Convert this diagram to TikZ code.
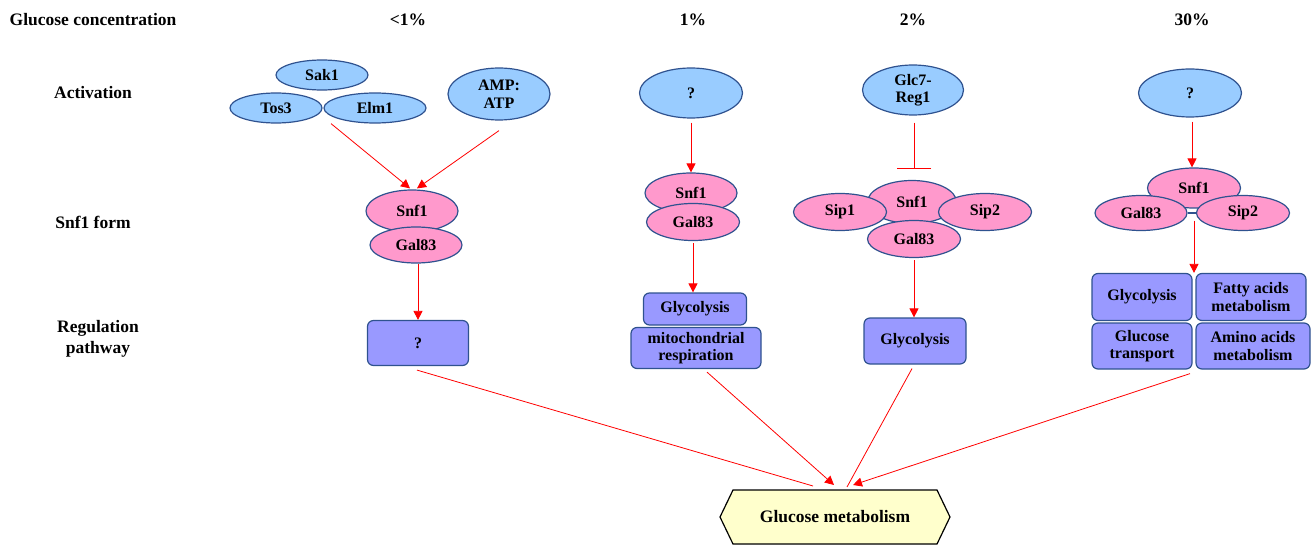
\documentclass[tikz,border=0pt]{standalone}
\usepackage{fontspec}
\setmainfont{Liberation Serif}
\usetikzlibrary{shapes.geometric,arrows.meta}
\definecolor{eblue}{RGB}{153,204,255}
\definecolor{epink}{RGB}{255,153,204}
\definecolor{bpurp}{RGB}{153,153,255}
\definecolor{edgec}{RGB}{47,82,143}
\definecolor{gmfill}{RGB}{255,255,204}
\newcommand{\nfont}{\fontsize{16}{17.5}\selectfont\bfseries}
\newcommand{\hfont}{\fontsize{17.5}{21}\selectfont\bfseries}
\begin{document}
\begin{tikzpicture}[x=1pt,y=-1pt,
  ellbase/.style={ellipse, draw=edgec, line width=1.2pt, inner sep=0pt, font=\nfont, align=center},
  blueell/.style={ellbase, fill=eblue},
  pinkell/.style={ellbase, fill=epink},
  pbox/.style={rectangle, rounded corners=6pt, draw=edgec, fill=bpurp, line width=1.2pt, inner sep=0pt, font=\nfont, align=center},
  hdr/.style={font=\hfont, align=center, inner sep=0pt},
  ra/.style={red, line width=0.8pt, -{Triangle[width=9pt,length=9pt]}},
  rl/.style={red, line width=0.8pt},
  inh/.style={red, line width=0.8pt, -{Bar[width=34pt,line width=0.8pt]}}
]
\useasboundingbox (0,0) rectangle (1316,545);
% headers
\node[hdr] (hgc) at (93,20) {Glucose concentration};
\node[hdr] (h1) at (408,20) {<1\%};
\node[hdr] (h2) at (693,20) {1\%};
\node[hdr] (h3) at (913,20) {2\%};
\node[hdr] (h4) at (1192,20) {30\%};
\node[hdr] (lact) at (93,93) {Activation};
\node[hdr] (lsnf) at (93,222) {Snf1 form};
\node[hdr] (lreg) at (98,339) {Regulation\\pathway};

% column 1
\node[blueell, minimum width=92pt, minimum height=30pt] (sak1) at (322,75) {Sak1};
\node[blueell, minimum width=92pt, minimum height=30pt] (tos3) at (276,108) {Tos3};
\node[blueell, minimum width=102pt, minimum height=30pt] (elm1) at (375,108) {Elm1};
\node[blueell, minimum width=102pt, minimum height=52pt] (amp) at (499,94) {AMP:\\ATP};
\node[pinkell, minimum width=92pt, minimum height=42pt] (snf1a) at (412,211) {Snf1};
\node[pinkell, minimum width=92pt, minimum height=36pt] (gal1) at (416,245) {Gal83};
\node[pbox, minimum width=101pt, minimum height=45pt] (qbox) at (418,343) {?};
\draw[ra] ([xshift=-44pt]elm1.south) -- ([xshift=-2pt,yshift=1pt]snf1a.north);
\draw[ra] ([yshift=-10pt]amp.south) -- ([xshift=5pt,yshift=1pt]snf1a.north);
\draw[ra] ([xshift=2pt]gal1.south) -- ([xshift=2pt]gal1.south |- qbox.north);

% column 2
\node[blueell, minimum width=103pt, minimum height=50pt] (q2) at (691,93) {?};
\node[pinkell, minimum width=92pt, minimum height=40pt] (snf2) at (691,193) {Snf1};
\node[pinkell, minimum width=93pt, minimum height=37pt] (gal2) at (693,222) {Gal83};
\node[pbox, minimum width=103pt, minimum height=32pt] (gly2) at (695,309) {Glycolysis};
\node[pbox, minimum width=130pt, minimum height=41pt] (mito) at (696,348) {mitochondrial\\respiration};
\draw[ra] ([yshift=-4pt]q2.south) -- (q2.south |- snf2.north);
\draw[ra] ([yshift=-2pt]gal2.south) -- (gal2.south |- gly2.north);

% column 3
\node[blueell, minimum width=101pt, minimum height=50pt] (glc) at (913,90) {Glc7-\\Reg1};
\node[pinkell, minimum width=89pt, minimum height=43pt] (snf3) at (912,202) {Snf1};
\node[pinkell, minimum width=93pt, minimum height=37pt] (sip1) at (840,212) {Sip1};
\node[pinkell, minimum width=93pt, minimum height=37pt] (sip2c) at (985,212) {Sip2};
\node[pinkell, minimum width=93pt, minimum height=37pt] (gal3) at (914,239) {Gal83};
\node[pbox, minimum width=102pt, minimum height=46pt] (gly3) at (915,341) {Glycolysis};
\draw[inh] ([xshift=1pt,yshift=-7pt]glc.south) -- ([xshift=2pt,yshift=11pt]snf3.north);
\draw[ra] ([yshift=-2pt]gal3.south) -- (gal3.south |- gly3.north);

% column 4
\node[blueell, minimum width=103pt, minimum height=48pt] (q4) at (1190,93) {?};
\node[pinkell, minimum width=93pt, minimum height=40pt] (snf4) at (1194,188) {Snf1};
\node[pinkell, minimum width=92pt, minimum height=35pt] (gal4) at (1141,213) {Gal83};
\node[pinkell, minimum width=93pt, minimum height=35pt] (sip4) at (1243,213) {Sip2};
\draw[edgec, line width=1.2pt] (gal4.east) -- (sip4.west);
\node[pbox, minimum width=100pt, minimum height=47pt] (gly4) at (1142,297) {Glycolysis};
\node[pbox, minimum width=110pt, minimum height=47pt] (fat) at (1251,297) {Fatty acids\\metabolism};
\node[pbox, minimum width=100pt, minimum height=46pt] (glt) at (1142,346) {Glucose\\transport};
\node[pbox, minimum width=114pt, minimum height=46pt] (amino) at (1253,346) {Amino acids\\metabolism};
\draw[ra] ([xshift=2pt,yshift=-4pt]q4.south) -- ([xshift=-2pt]snf4.north);
\draw[ra] ([yshift=-12pt]snf4.south) -- (snf4.south |- gly4.north);

% glucose metabolism
\draw[black, line width=1.2pt, fill=gmfill] (733,490) -- (937,490) -- (950,517) -- (937,544) -- (733,544) -- (720,517) -- cycle;
\node[font=\hfont, inner sep=0pt] (gm) at (835,517) {Glucose metabolism};
\coordinate (gmA) at (813,486);
\coordinate (gmB) at (834,485);
\coordinate (gmC) at (847,487);
\coordinate (gmD) at (853,485);
\draw[rl] ([xshift=-1pt,yshift=-4pt]qbox.south) -- (gmA);
\draw[ra] ([xshift=11pt,yshift=-3pt]mito.south) -- (gmB);
\draw[rl] ([xshift=-3pt,yshift=-4pt]gly3.south) -- (gmC);
\draw[ra] ([xshift=48pt,yshift=-4pt]glt.south) -- (gmD);
\end{tikzpicture}
\end{document}
